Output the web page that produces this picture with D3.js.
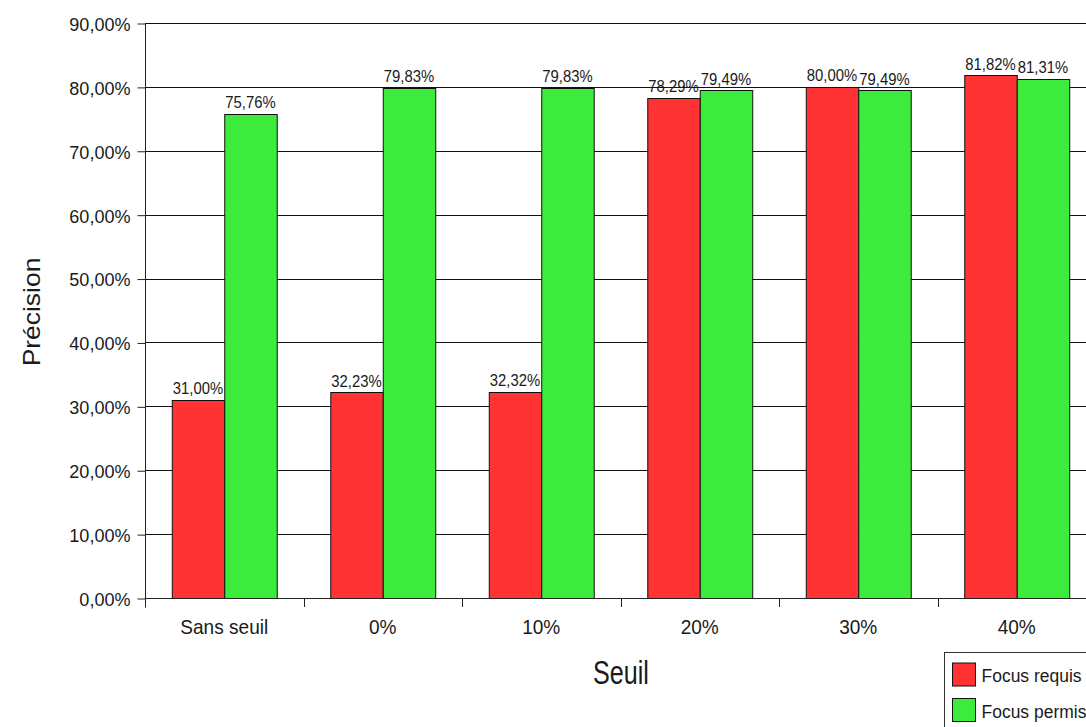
<!DOCTYPE html>
<html>
<head>
<meta charset="utf-8">
<script src="https://cdn.jsdelivr.net/npm/d3@7"></script>
<style>
  html, body { margin: 0; padding: 0; background: #ffffff; }
  svg { display: block; }
  text { font-family: "Liberation Sans", Arial, sans-serif; fill: #1a1a1a; }
</style>
</head>
<body>
<svg id="chart" width="1086" height="727"></svg>
<script>
// Seuils testés et précision obtenue pour chaque mode de focus
const categories = ["Sans seuil", "0%", "10%", "20%", "30%", "40%"];
const seriesNames = ["Focus requis", "Focus permis"];
const focusRequis = [31.00, 32.23, 32.32, 78.29, 80.00, 81.82];
const focusPermis = [75.76, 79.83, 79.83, 79.49, 79.49, 81.31];
const yTicks = [0, 10, 20, 30, 40, 50, 60, 70, 80, 90];
const colors = ["#ff3333", "#3deb3d"];

const fmt = v => v.toFixed(2).replace(".", ",") + "%";

const svg = d3.select("#chart");
const plotLeft = 145, plotTop = 23, plotBottom = 598;
const step = 158.5;

const x = d3.scaleBand()
  .domain(categories)
  .range([plotLeft, plotLeft + step * categories.length])
  .padding(0);

const xInner = d3.scaleBand()
  .domain(seriesNames)
  .range([0, x.bandwidth()])
  .paddingInner(0)
  .paddingOuter(0.51);

const y = d3.scaleLinear().domain([0, 90]).range([plotBottom, plotTop]);

const color = d3.scaleOrdinal().domain(seriesNames).range(colors);

// Lignes de grille horizontales
svg.append("g")
  .selectAll("line")
  .data(yTicks)
  .join("line")
  .attr("x1", plotLeft).attr("x2", 1086)
  .attr("y1", d => Math.round(y(d)) + 0.5)
  .attr("y2", d => Math.round(y(d)) + 0.5)
  .attr("stroke", "#111")
  .attr("stroke-width", 1);

// Barres groupées
const rows = categories.map((c, i) => ({
  cat: c,
  values: [
    { name: seriesNames[0], v: focusRequis[i] },
    { name: seriesNames[1], v: focusPermis[i] }
  ]
}));

const groups = svg.append("g")
  .selectAll("g")
  .data(rows)
  .join("g")
  .attr("transform", d => `translate(${x(d.cat)},0)`);

groups.selectAll("rect")
  .data(d => d.values)
  .join("rect")
  .attr("x", d => xInner(d.name) + 0.5)
  .attr("y", d => Math.round(y(d.v)) + 0.5)
  .attr("width", xInner.bandwidth())
  .attr("height", d => Math.round(y(0)) - Math.round(y(d.v)))
  .attr("fill", d => color(d.name))
  .attr("stroke", "#111")
  .attr("stroke-width", 1);

// Étiquettes de valeurs
groups.selectAll("text.val")
  .data(d => d.values)
  .join("text")
  .attr("class", "val")
  .attr("text-anchor", "middle")
  .attr("transform", d => `translate(${xInner(d.name) + xInner.bandwidth() / 2},${y(d.v) - 5.5}) scale(0.9,1)`)
  .style("font-size", "16.5px")
  .text(d => fmt(d.v));

// Axe Y
const yAxis = d3.axisLeft(y)
  .tickValues(yTicks)
  .tickSize(8)
  .tickPadding(7)
  .tickFormat(d => fmt(d));

const gy = svg.append("g")
  .attr("transform", `translate(${plotLeft + 0.5},0.5)`)
  .call(yAxis);
gy.select(".domain").attr("stroke", "#222").attr("d", `M0,${plotTop}V${plotBottom + 9}`);
gy.selectAll(".tick line").attr("stroke", "#222");
gy.selectAll(".tick text")
  .attr("fill", "#1a1a1a")
  .style("font-family", "Liberation Sans, Arial, sans-serif")
  .style("font-size", "19px")
  .attr("transform", "scale(0.95,1)")
  .attr("x", -15 / 0.95)
  .attr("dy", "0.36em");

// Axe X
const xAxis = d3.axisBottom(x).tickSize(0).tickPadding(0);
const gx = svg.append("g")
  .attr("transform", `translate(0,${plotBottom + 0.5})`)
  .call(xAxis);
gx.select(".domain").attr("stroke", "#222").attr("d", `M${plotLeft},0H1086`);
gx.selectAll(".tick text")
  .attr("fill", "#1a1a1a")
  .style("font-family", "Liberation Sans, Arial, sans-serif")
  .style("font-size", "20.5px")
  .attr("y", 0)
  .attr("dy", 0)
  .attr("transform", "translate(0,35) scale(0.93,1)");

// Petites graduations entre les catégories
svg.append("g")
  .selectAll("line")
  .data(categories.map((c, i) => plotLeft + i * step))
  .join("line")
  .attr("x1", d => Math.round(d) + 0.5).attr("x2", d => Math.round(d) + 0.5)
  .attr("y1", plotBottom).attr("y2", plotBottom + 9)
  .attr("stroke", "#222");

// Titres des axes
svg.append("text")
  .attr("text-anchor", "middle")
  .attr("transform", "translate(621,684) scale(0.74,1)")
  .style("font-size", "34px")
  .text("Seuil");

svg.append("text")
  .attr("text-anchor", "middle")
  .attr("transform", "translate(40,312) rotate(-90) scale(1.15,1)")
  .style("font-size", "23px")
  .text("Précision");

// Légende
const legend = svg.append("g").attr("transform", "translate(944.5,652.5)");
legend.append("rect")
  .attr("width", 160).attr("height", 90)
  .attr("fill", "#fff")
  .attr("stroke", "#333")
  .attr("stroke-width", 1);
seriesNames.forEach((name, i) => {
  const gy0 = 10.5 + i * 35.5;
  legend.append("rect")
    .attr("x", 8).attr("y", gy0)
    .attr("width", 23).attr("height", 23)
    .attr("fill", color(name))
    .attr("stroke", "#111");
  legend.append("text")
    .attr("transform", `translate(37,${gy0 + 19}) scale(0.92,1)`)
    .style("font-size", "19px")
    .text(name);
});
</script>
</body>
</html>
